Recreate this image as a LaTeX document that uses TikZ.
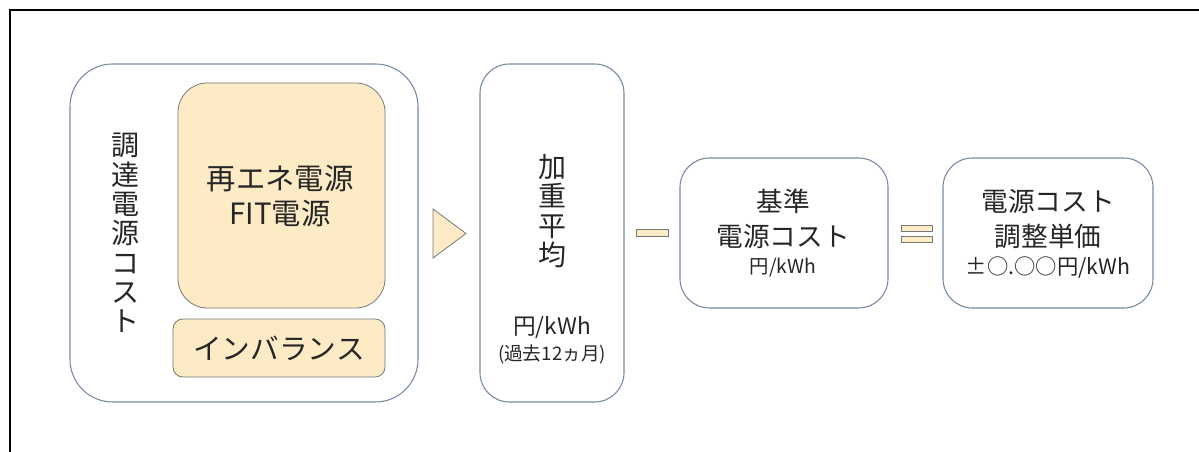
\documentclass[tikz,border=0pt]{standalone}
\usepackage{fontspec}
\newfontfamily\jpfont{Noto Sans CJK JP}
\usepackage{tikz}
\usetikzlibrary{positioning}
\definecolor{boxline}{RGB}{118,136,163}
\definecolor{ylwfill}{RGB}{253,235,198}
\definecolor{ylwline}{RGB}{120,120,120}

\begin{document}
\begin{tikzpicture}[x=0.75pt,y=0.75pt,yscale=-1,xscale=1,
  every node/.style={text=black!85, inner sep=0pt},
  bigtxt/.style={font=\jpfont\fontsize{22}{26.5}\selectfont, align=center},
  midtxt/.style={font=\jpfont\fontsize{20}{26}\selectfont, align=center},
  unittxt/.style={font=\jpfont\fontsize{14.5}{17}\selectfont, align=center},
  vtxt/.style={font=\jpfont\fontsize{21}{22}\selectfont, align=center},
  bluebox/.style={draw=boxline, line width=0.8pt},
  ylwbox/.style={draw=ylwline, fill=ylwfill, line width=0.6pt}]
\useasboundingbox (0,0) rectangle (1199,452);

%Frame
\draw[line width=1.6pt] (10,452) -- (10,10) -- (1199,10) ;

%Rounded Rect (procurement cost)
\draw[bluebox, rounded corners=32pt] (70,64) rectangle (418,402) ;
%Rounded Rect (renewable / FIT)
\draw[ylwbox, rounded corners=22pt] (178,83) rectangle (385,308) ;
%Rounded Rect (imbalance)
\draw[ylwbox, rounded corners=7.5pt] (173,319) rectangle (385,377) ;
%Triangle
\draw[ylwbox] (433,209) -- (466,233.5) -- (433,258) -- cycle ;
%Rounded Rect (weighted average)
\draw[bluebox, rounded corners=22pt] (480,64) rectangle (624,402) ;
%Minus
\draw[ylwbox] (636,229) rectangle (668,236) ;
%Rounded Rect (base cost)
\draw[bluebox, rounded corners=22pt] (680,158) rectangle (888,308) ;
%Equals
\draw[ylwbox] (901,225) rectangle (932,231) ;
\draw[ylwbox] (901,236) rectangle (932,242) ;
%Rounded Rect (adjustment price)
\draw[bluebox, rounded corners=22pt] (943,158) rectangle (1153,308) ;

% Text Node
\node[vtxt] (cost) at (125,233) {調\\達\\電\\源\\コ\\ス\\ト};
% Text Node
\node[bigtxt] (renew) at (280,196) {再エネ電源\\FIT電源};
% Text Node
\node[font=\jpfont\fontsize{21.5}{26}\selectfont] (imbal) at (279,348) {インバランス};
% Text Node
\node[vtxt] (avg) at (552,211) {加\\重\\平\\均};
% Text Node
\node[font=\jpfont\fontsize{17}{20}\selectfont] (avgunit) at (552,328) {円/kWh};
% Text Node
\node[font=\jpfont\fontsize{14}{16}\selectfont] (avgterm) at (552,354) {(過去12ヵ月)};
% Text Node
\node[midtxt] (base) at (783,219) {基準\\電源コスト};
% Text Node
\node[unittxt] (baseunit) at (783,268) {円/kWh};
% Text Node
\node[midtxt] (adj) at (1048,219) {電源コスト\\調整単価};
% Text Node
\node[font=\jpfont\fontsize{16}{18}\selectfont] (adjunit) at (1048,268) {±○.○○円/kWh};
\end{tikzpicture}
\end{document}
